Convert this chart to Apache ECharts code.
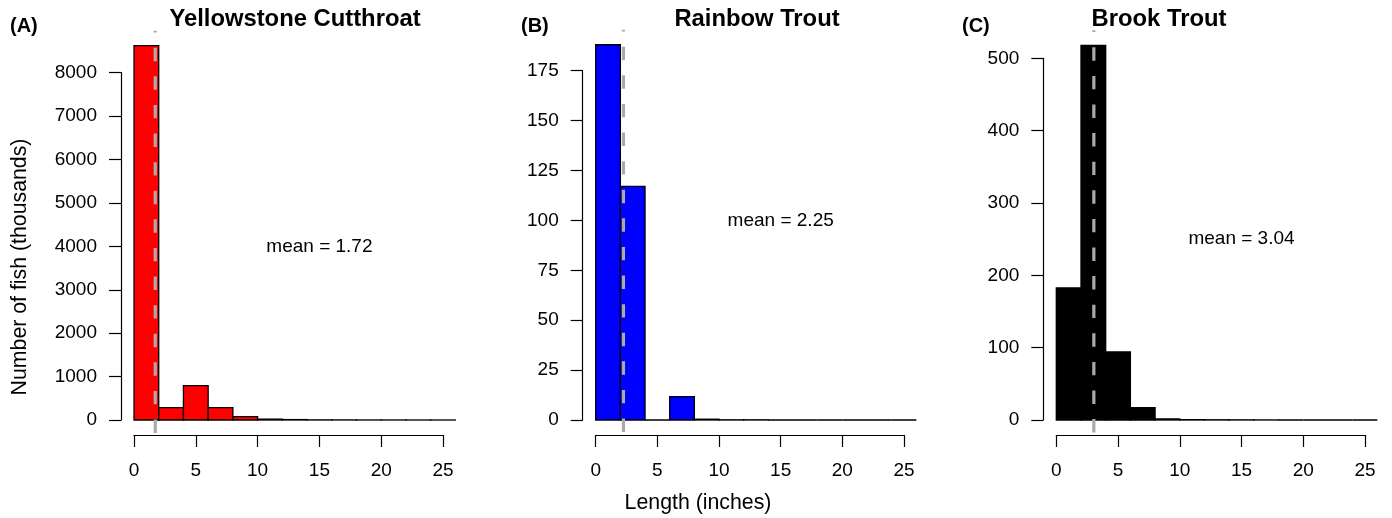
<!DOCTYPE html>
<html>
<head>
<meta charset="utf-8">
<script src="https://cdn.jsdelivr.net/npm/echarts@6/dist/echarts.min.js"></script>
<style>html,body{margin:0;padding:0;background:#fff}#c{width:1392px;height:518px}</style>
</head>
<body>
<div id="c"></div>
<script>
// ---- data ----
var binEdges = [0,2,4,6,8,10,12,14,16,18,20,22,24,26];
var titles = ['Yellowstone Cutthroat', 'Rainbow Trout', 'Brook Trout'];
var panelTags = ['(A)', '(B)', '(C)'];
var countsA = [8622, 284, 790, 284, 77, 20, 10, 3, 2, 1, 1, 0.5, 0.5];
var countsB = [188, 117, 0, 11.7, 0.4, 0.1, 0.1, 0, 0, 0, 0, 0, 0];
var countsC = [182.5, 518, 94, 17, 1.5, 0.5, 0.3, 0.2, 0.1, 0, 0, 0, 0];
var means = [1.72, 2.25, 3.04];
var meanLabels = ['mean = 1.72', 'mean = 2.25', 'mean = 3.04'];
var meanLabelY = [4000, 100, 250];
var yMaxTick = [8000, 175, 500];
var yInterval = [1000, 25, 100];
var xTicks = [0, 5, 10, 15, 20, 25];
var fills = ['#ff0000', '#0000ff', '#000000'];
var allCounts = [countsA, countsB, countsC];

// ---- layout ----
var grids = [
  {left: 134, top: 72.7, width: 309, height: 347.3},
  {left: 595.7, top: 70.7, width: 308.3, height: 349.3},
  {left: 1056.3, top: 58.3, width: 308.7, height: 361.7}
];
var titleX = [295, 757, 1159];
var tagX = [10, 521, 962];
var FONT = '"Liberation Sans", Arial, Helvetica, sans-serif';

var xAxes = [], yAxes = [], series = [], graphics = [];
for (var i = 0; i < 3; i++) {
  (function(i){
    var counts = allCounts[i];
    var M = Math.max.apply(null, counts);
    xAxes.push({
      type: 'value', gridIndex: i, min: 0, max: 25, interval: 5, offset: 15,
      axisLine: {show: true, onZero: false, lineStyle: {color: '#000', width: 1.2}},
      axisTick: {show: true, length: 12, inside: false, lineStyle: {color: '#000', width: 1.2}},
      axisLabel: {show: true, margin: 26, color: '#000', fontSize: 19, fontFamily: FONT,
        formatter: function(v){ return String(v); }},
      splitLine: {show: false}
    });
    yAxes.push({
      type: 'value', gridIndex: i, min: 0, max: yMaxTick[i], interval: yInterval[i], offset: 13,
      axisLine: {show: true, onZero: false, lineStyle: {color: '#000', width: 1.2}},
      axisTick: {show: true, length: 12, inside: false, lineStyle: {color: '#000', width: 1.2}},
      axisLabel: {show: true, margin: 24, color: '#000', fontSize: 19, fontFamily: FONT,
        formatter: function(v){ return String(v); }},
      splitLine: {show: false}
    });
    var barData = counts.map(function(v, k){ return [binEdges[k], binEdges[k+1], v]; });
    series.push({
      type: 'custom', xAxisIndex: i, yAxisIndex: i, clip: false, silent: true,
      data: barData, encode: {x: [0, 1], y: 2},
      renderItem: function(params, api){
        var p0 = api.coord([api.value(0), 0]);
        var p1 = api.coord([api.value(1), api.value(2)]);
        return {type: 'rect', shape: {x: p0[0], y: p1[1], width: p1[0]-p0[0], height: p0[1]-p1[1]},
          style: {fill: fills[i], stroke: '#000', lineWidth: 1.3}};
      }
    });
    // mean line spans R plot region (data range extended by 4%), drawn top to bottom
    series.push({
      type: 'custom', xAxisIndex: i, yAxisIndex: i, clip: false, silent: true,
      data: [[means[i], 1.04*M, -0.04*M]], encode: {x: 0, y: [1, 2]}, z: 5,
      renderItem: function(params, api){
        var a = api.coord([api.value(0), api.value(1)]);
        var b = api.coord([api.value(0), api.value(2)]);
        return {type: 'line', shape: {x1: a[0], y1: a[1], x2: b[0], y2: b[1]},
          style: {stroke: '#aaaaaa', lineWidth: 3.2, lineDash: [13.4, 15.2], lineDashOffset: 11.6}};
      }
    });
    series.push({
      type: 'custom', xAxisIndex: i, yAxisIndex: i, clip: false, silent: true,
      data: [[15, meanLabelY[i], meanLabels[i]]], encode: {x: 0, y: 1},
      renderItem: function(params, api){
        var p = api.coord([api.value(0), api.value(1)]);
        return {type: 'text', x: p[0], y: p[1],
          style: {text: meanLabels[i], fill: '#000', font: '19px ' + FONT, align: 'center', verticalAlign: 'middle'}};
      }
    });
    graphics.push({type: 'text', x: titleX[i], y: 19,
      style: {text: titles[i], fill: '#000', font: 'bold 23.8px ' + FONT, align: 'center', verticalAlign: 'middle'}});
    graphics.push({type: 'text', x: tagX[i], y: 26,
      style: {text: panelTags[i], fill: '#000', font: 'bold 20px ' + FONT, align: 'left', verticalAlign: 'middle'}});
  })(i);
}
graphics.push({type: 'text', x: 20, y: 267, rotation: Math.PI/2,
  style: {text: 'Number of fish (thousands)', fill: '#000', font: '21.3px ' + FONT, align: 'center', verticalAlign: 'middle'}});
graphics.push({type: 'text', x: 698, y: 503,
  style: {text: 'Length (inches)', fill: '#000', font: '21.3px ' + FONT, align: 'center', verticalAlign: 'middle'}});

var chart = echarts.init(document.getElementById('c'), null, {renderer: 'canvas'});
chart.setOption({
  animation: false,
  backgroundColor: '#fff',
  grid: grids,
  xAxis: xAxes,
  yAxis: yAxes,
  series: series,
  graphic: graphics
});
</script>
</body>
</html>
